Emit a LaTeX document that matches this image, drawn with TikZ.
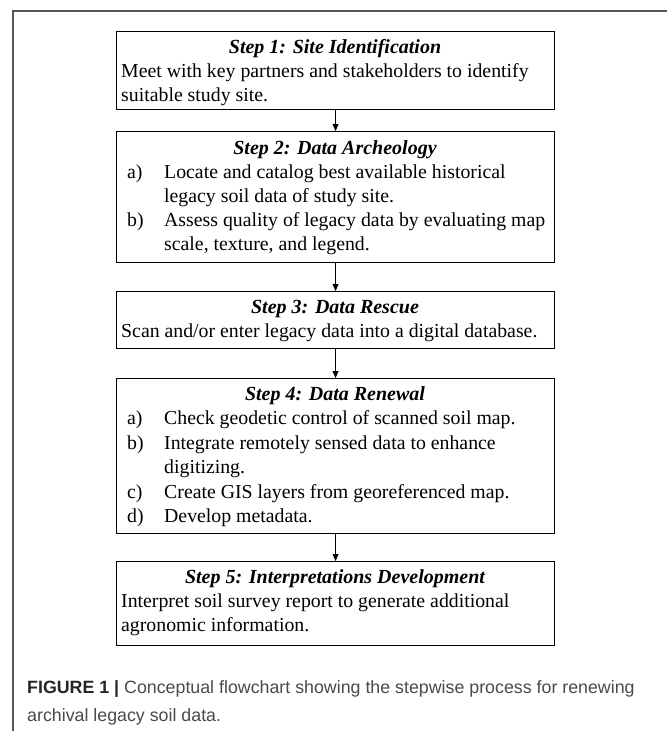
\documentclass[tikz,border=0pt]{standalone}
\usepackage{fontspec}
\setmainfont{Liberation Serif}
\newfontfamily\capfont{Liberation Sans}
\usetikzlibrary{arrows.meta}
\definecolor{framegray}{HTML}{555555}
\definecolor{capgray}{HTML}{4A4A4A}
\begin{document}
\begin{tikzpicture}[x=1pt,y=-1pt,
  box/.style={draw=black,line width=1.1pt,minimum width=438pt,inner sep=0pt,anchor=north west,rectangle},
  ttl/.style={anchor=base,font=\fontsize{20}{24}\selectfont\bfseries\itshape,inner sep=0pt},
  txt/.style={anchor=base west,font=\fontsize{19.8}{24}\selectfont,inner sep=0pt},
  arr/.style={line width=0.9pt,-{Triangle[length=7pt,width=6pt]}},
  captxt/.style={anchor=base west,font=\capfont\fontsize{17.8}{20}\selectfont,text=capgray,inner sep=0pt}]
\useasboundingbox (0,0) rectangle (667,731);
\draw[framegray,line width=1.4pt] (13,731) -- (13,11) -- (667,11);
% boxes
\node[box,minimum height=78pt] (b1) at (116,31) {};
\node[box,minimum height=131pt] (b2) at (116,131) {};
\node[box,minimum height=57pt] (b3) at (116,291) {};
\node[box,minimum height=155pt] (b4) at (116,378) {};
\node[box,minimum height=84pt] (b5) at (116,561) {};
% step 1
\node[ttl] (t1) at (335,53) {Step 1: Site Identification};
\node[txt] (t1a) at (121,77) {Meet with key partners and stakeholders to identify};
\node[txt] (t1b) at (121,101) {suitable study site.};
% step 2
\node[ttl] (t2) at (335,154) {Step 2: Data Archeology};
\node[txt] (l2a) at (127,178.5) {a)};
\node[txt] (t2a) at (164,178.5) {Locate and catalog best available historical};
\node[txt] (t2a2) at (164,202.5) {legacy soil data of study site.};
\node[txt] (l2b) at (127,226) {b)};
\node[txt] (t2b) at (164,226) {Assess quality of legacy data by evaluating map};
\node[txt] (t2b2) at (164,250) {scale, texture, and legend.};
% step 3
\node[ttl] (t3) at (335,313) {Step 3: Data Rescue};
\node[txt] (t3a) at (121,337) {Scan and/or enter legacy data into a digital database.};
% step 4
\node[ttl] (t4) at (335,400) {Step 4: Data Renewal};
\node[txt] (l4a) at (127,424.5) {a)};
\node[txt] (t4a) at (164,424.5) {Check geodetic control of scanned soil map.};
\node[txt] (l4b) at (127,449) {b)};
\node[txt] (t4b) at (164,449) {Integrate remotely sensed data to enhance};
\node[txt] (t4b2) at (164,473.5) {digitizing.};
\node[txt] (l4c) at (127,498) {c)};
\node[txt] (t4c) at (164,498) {Create GIS layers from georeferenced map.};
\node[txt] (l4d) at (127,522.5) {d)};
\node[txt] (t4d) at (164,522.5) {Develop metadata.};
% step 5
\node[ttl] (t5) at (335,583) {Step 5: Interpretations Development};
\node[txt] (t5a) at (121,607) {Interpret soil survey report to generate additional};
\node[txt] (t5b) at (121,631) {agronomic information.};
% arrows
\draw[arr] (b1.south) -- (b2.north);
\draw[arr] (b2.south) -- (b3.north);
\draw[arr] (b3.south) -- (b4.north);
\draw[arr] (b4.south) -- (b5.north);
% caption
\node[captxt] (c1) at (27,693) {\textcolor{black!85}{\bfseries FIGURE 1 |} Conceptual flowchart showing the stepwise process for renewing};
\node[captxt] (c2) at (27,721) {archival legacy soil data.};
\end{tikzpicture}
\end{document}
